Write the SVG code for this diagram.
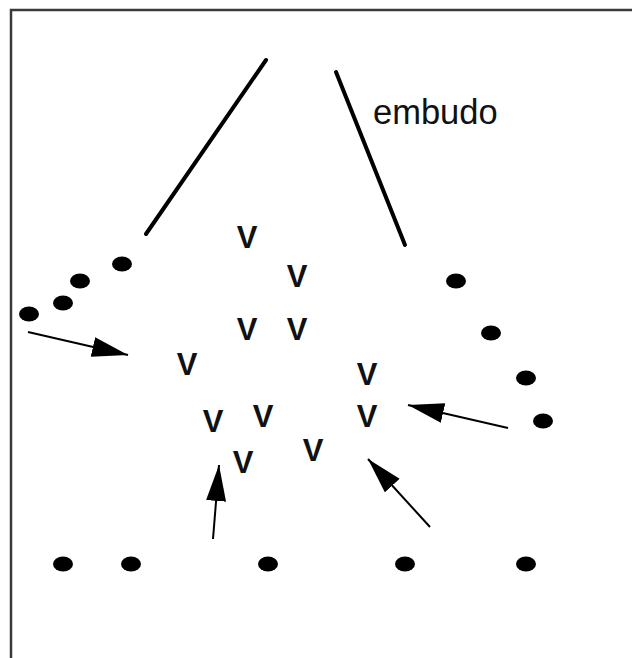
<svg xmlns="http://www.w3.org/2000/svg" width="632" height="658" viewBox="0 0 632 658">
<style>
.frame{fill:none;stroke:#3a3a3a;stroke-width:2.5}
.funnel{stroke:#000;stroke-width:4;stroke-linecap:round}
.dot{fill:#000}
.v{font-family:"Liberation Sans",Arial,sans-serif;font-weight:bold;font-size:31px;fill:#111;text-anchor:middle}
.lbl{font-family:"Liberation Sans",Arial,sans-serif;font-size:34.5px;fill:#111}
.arrow{stroke:#000;stroke-width:2;fill:none;marker-end:url(#ah)}
</style>
<defs>
<marker id="ah" markerUnits="userSpaceOnUse" markerWidth="38" markerHeight="22" refX="36" refY="10" orient="auto">
<path d="M0,0 L36,10 L0,20 z" fill="#000"/>
</marker>
</defs>
<rect width="632" height="658" fill="#fff"/>
<rect class="frame" x="11" y="10" width="640" height="670"/>
<g id="funnel">
<line class="funnel" x1="266" y1="60" x2="146" y2="234"/>
<line class="funnel" x1="336" y1="72" x2="405" y2="245"/>
</g>
<g id="label"><text class="lbl" x="373" y="124">embudo</text></g>
<g id="dots-left">
<ellipse class="dot" cx="122" cy="264" rx="10" ry="7.5"/>
<ellipse class="dot" cx="80" cy="281" rx="10" ry="7.5"/>
<ellipse class="dot" cx="63" cy="303" rx="10" ry="7.5"/>
<ellipse class="dot" cx="29" cy="314" rx="10" ry="7.5"/>
</g>
<g id="dots-right">
<ellipse class="dot" cx="456" cy="281" rx="10" ry="7.5"/>
<ellipse class="dot" cx="491" cy="333" rx="10" ry="7.5"/>
<ellipse class="dot" cx="526" cy="378" rx="10" ry="7.5"/>
<ellipse class="dot" cx="543" cy="421" rx="10" ry="7.5"/>
</g>
<g id="dots-bottom">
<ellipse class="dot" cx="63" cy="564" rx="10" ry="7.5"/>
<ellipse class="dot" cx="131" cy="564" rx="10" ry="7.5"/>
<ellipse class="dot" cx="268" cy="564" rx="10" ry="7.5"/>
<ellipse class="dot" cx="405" cy="564" rx="10" ry="7.5"/>
<ellipse class="dot" cx="526" cy="564" rx="10" ry="7.5"/>
</g>
<g id="vs">
<text class="v" x="247" y="248">V</text>
<text class="v" x="297" y="287">V</text>
<text class="v" x="247" y="340">V</text>
<text class="v" x="297" y="340">V</text>
<text class="v" x="187" y="375">V</text>
<text class="v" x="367" y="385">V</text>
<text class="v" x="213" y="432">V</text>
<text class="v" x="263" y="427">V</text>
<text class="v" x="367" y="427">V</text>
<text class="v" x="313" y="461">V</text>
<text class="v" x="243" y="473">V</text>
</g>
<g id="connectors">
<line class="arrow" x1="28" y1="332" x2="128" y2="355"/>
<line class="arrow" x1="508" y1="428" x2="408" y2="405"/>
<line class="arrow" x1="213" y1="539" x2="219" y2="465"/>
<line class="arrow" x1="430" y1="527" x2="368" y2="459"/>
</g>
</svg>
